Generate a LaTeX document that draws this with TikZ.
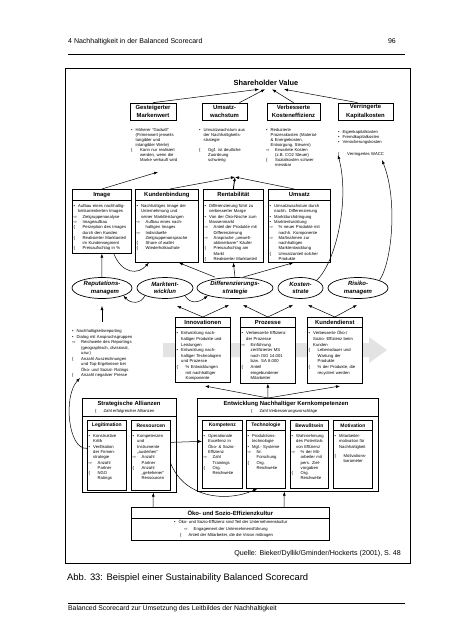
\documentclass[tikz,border=0pt]{standalone}
\usepackage{fontspec}
\setmainfont{Liberation Sans}
\newfontfamily\symf{DejaVu Sans}
\usetikzlibrary{arrows.meta,shapes.geometric,positioning}

% list items: bullet, consequence, measure; \zl breaks a line inside an item
\newcommand\zl{\hfil\break}
\newcommand\bul[1]{\par\noindent\def\zl{\hfil\break\hspace*{4.5pt}}\makebox[4.5pt][l]{\textbullet}#1}
\newcommand\arr[1]{\par\noindent\def\zl{\hfil\break\hspace*{9pt}}\makebox[9pt][l]{\symf ⇨}#1}
\newcommand\mes[1]{\par\noindent\def\zl{\hfil\break\hspace*{9pt}}\makebox[9pt][l]{\{}#1}

\tikzset{
  pf/.style={-{Latex[length=4pt,width=3pt]}, line width=0.5pt},
  kopf/.style={draw, line width=0.7pt, fill=white, inner sep=0pt, align=center, font=\fontsize{5.9}{8.3}\selectfont\bfseries},
  kopfk/.style={kopf, anchor=north west, minimum height=10pt, font=\fontsize{5}{6}\selectfont\bfseries},
  rumpf/.style={draw, line width=0.7pt, fill=white, inner sep=0pt, anchor=north west},
  txt/.style={anchor=north west, inner sep=0pt, text width=#1, align=left, font=\fontsize{4.2}{5.3}\selectfont},
  oval/.style={draw, ellipse, line width=0.7pt, fill=white, inner sep=0pt, minimum height=21pt, align=center, font=\fontsize{6}{7.5}\selectfont\bfseries\itshape},
}

\begin{document}
\begin{tikzpicture}[x=1pt, y=-1pt]
\useasboundingbox (0,0) rectangle (453,640);

% page head and foot
\node[anchor=base west, inner sep=0pt, font=\fontsize{7}{8}\selectfont] (kopfzeile) at (68,43) {4 Nachhaltigkeit in der Balanced Scorecard};
\node[anchor=base east, inner sep=0pt, font=\fontsize{7}{8}\selectfont] (seite) at (396,43) {96};
\draw[line width=0.8pt] (68,54) -- (405,54);
\draw[line width=0.8pt] (68,603) -- (405,603);
\node[anchor=west, inner sep=0pt, font=\fontsize{6.8}{8}\selectfont] (fusszeile) at (68,609) {Balanced Scorecard zur Umsetzung des Leitbildes der Nachhaltigkeit};
\node[anchor=west, inner sep=0pt, font=\fontsize{9.4}{11}\selectfont] (abb) at (67,578) {Abb. 33: Beispiel einer Sustainability Balanced Scorecard};

% frame
\draw[line width=0.7pt] (65,68) rectangle (410,563);
\node[anchor=east, inner sep=0pt, font=\fontsize{7.1}{8}\selectfont] (quelle) at (401,554) {Quelle: Bieker/Dyllik/Gminder/Hockerts (2001), S. 48};

% big grey arrow
\fill[gray!22] (163,343) -- (369,343) -- (369,337) -- (387,350) -- (369,363) -- (369,357) -- (163,357) -- cycle;

% top
\node[font=\fontsize{7.4}{9}\selectfont\bfseries] (sv) at (266,83) {Shareholder Value};
\node[kopf, minimum width=46pt, minimum height=17pt] (gmw) at (153,111.5) {Gesteigerter\\Markenwert};
\node[kopf, minimum width=45pt, minimum height=17pt] (uw) at (224.5,111.5) {Umsatz-\\wachstum};
\node[kopf, minimum width=53pt, minimum height=17pt] (vke) at (293.5,111.5) {Verbesserte\\Kosteneffizienz};
\node[kopf, minimum width=55pt, minimum height=17pt] (vkk) at (365.5,111.5) {Verringerte\\Kapitalkosten};

\node[txt=60pt, font=\fontsize{4.2}{5}\selectfont] (gmwt) at (131,126) {\bul{Höherer “Godwill”\zl(Firmenwert jenseits\zl tangibler und\zl intangibler Werte)}\mes{Kann nur realisiert\zl werden, wenn die\zl Marke verkauft wird}};
\node[txt=60pt, font=\fontsize{4.2}{5}\selectfont] (uwt) at (199,126) {\bul{Umsatzwachstum aus\zl der Nachhaltigkeits-\zl strategie}\vspace{5pt}\mes{Ggf. ist deutliche\zl Zuordnung\zl schwierig}};
\node[txt=62pt, font=\fontsize{4.2}{5}\selectfont] (vket) at (266,126) {\bul{Reduzierte\zl Prozesskosten (Material-\zl \& Energiekosten,\zl Entsorgung, Steuern)}\arr{Erwartete Kosten\zl (z.B. CO2 Steuer)}\mes{Sozialkosten schwer\zl messbar}};
\node[txt=62pt, font=\fontsize{4.2}{5}\selectfont] (vkkt) at (338,128) {\bul{Eigenkapitalkosten}\bul{Fremdkapitalkosten}\bul{Versicherungskosten}\vspace{7pt}\mes{Verringertes WACC}};

% second row
\node[kopf, anchor=north west, minimum width=59pt, minimum height=11pt] (img) at (72,189) {Image};
\node[rumpf, minimum width=59pt, minimum height=53pt] (imgb) at (72,200) {};
\node[txt=62pt] (imgt) at (73.5,202) {\bul{Aufbau eines nachhaltig-\zl keitsorientierten Images}\arr{Zielgruppenanalyse}\arr{Imageaufbau}\mes{Perzeption des Images\zl durch den Kunden}\mes{Realisierter Marktanteil\zl im Kundensegment}\mes{Preisaufschlag in \%}};
\node[kopf, anchor=north west, minimum width=63pt, minimum height=11pt] (kb) at (135,189) {Kundenbindung};
\node[rumpf, minimum width=63pt, minimum height=62pt] (kbb) at (135,200) {};
\node[txt=66pt] (kbt) at (136.5,202) {\bul{Nachhaltiges Image der\zl Unternehmung und\zl seiner Marktleistungen}\arr{Aufbau eines nach-\zl haltigen Images}\arr{Individuelle\zl Zielgruppenansprache}\mes{Share of wallet}\mes{Wiederholkaufrate}};
\node[kopf, anchor=north west, minimum width=60pt, minimum height=11pt] (rent) at (203,189) {Rentabilität};
\node[rumpf, minimum width=60pt, minimum height=62pt] (rentb) at (203,200) {};
\node[txt=64pt] (rentt) at (204.5,202) {\bul{Differenzierung führt zu\zl verbesserter Marge}\bul{Von der Öko-Nische zum\zl Massenmarkt}\arr{Anteil der Produkte mit\zl Differenzierung}\arr{Ansprache „umwelt-\zl aktivierbarer“ Käufer}\mes{Preisaufschlag am\zl Markt}\mes{Realisierter Marktanteil}};
\node[kopf, anchor=north west, minimum width=62pt, minimum height=11pt] (ums) at (268,189) {Umsatz};
\node[rumpf, minimum width=62pt, minimum height=62pt] (umsb) at (268,200) {};
\node[txt=66pt] (umst) at (269.5,202) {\bul{Umsatzwachstum durch\zl nachh. Differenzierung}\bul{Marktdurchdringung}\bul{Marktentwicklung}\arr{\% neuer Produkte mit\zl nachh. Komponente}\arr{Maßnahmen zur\zl nachhaltigen\zl Marktentwicklung}\mes{Umsatzanteil solcher\zl Produkte}};

% strategies
\node[oval, minimum width=60pt] (rep) at (102,288) {Reputations-\\\hspace*{6pt}managem};
\node[oval, minimum width=56pt] (mkt) at (165,288) {Marktent-\\wicklun};
\node[oval, minimum width=76pt] (diff) at (235,288) {Differenzierungs-\\strategie};
\node[oval, minimum width=45pt] (kost) at (300.5,288) {Kosten-\\strate};
\node[oval, minimum width=60pt] (risk) at (358,288) {Risiko-\\managem};

% third row
\node[txt=100pt, font=\fontsize{4.2}{5.5}\selectfont] (rept) at (72,327) {\bul{Nachhaltigkeitsreporting}\bul{Dialog mit Anspruchsgruppen}\arr{Reichweite des Reportings\zl (geographisch, divisional,\zl usw.)}\mes{Anzahl Auszeichnungen\zl und Top-Ergebnisse bei\zl Öko- und Sozial- Ratings}\mes{Anzahl negativer Presse}};
\node[kopf, anchor=north west, minimum width=55pt, minimum height=10pt] (inno) at (175,317) {Innovationen};
\node[rumpf, minimum width=55pt, minimum height=55pt] (innob) at (175,327) {};
\node[txt=58pt, font=\fontsize{4.2}{5.6}\selectfont] (innot) at (176.5,329) {\bul{Entwicklung nach-\zl haltiger Produkte und\zl Leistungen}\bul{Entwicklung nach-\zl haltiger Technologien\zl und Prozesse}\mes{\% Entwicklungen\zl mit nachhaltiger\zl Komponente}};
\node[kopf, anchor=north west, minimum width=55pt, minimum height=10pt] (proz) at (240,317) {Prozesse};
\node[rumpf, minimum width=55pt, minimum height=56pt] (prozb) at (240,327) {};
\node[txt=58pt, font=\fontsize{4.2}{5.6}\selectfont] (prozt) at (241.5,329) {\bul{Verbesserte Effizienz\zl der Prozesse}\arr{Einführung\zl zertifizierter MS\zl nach ISO 14.001\zl bzw. SA 8.000}\mes{Anteil\zl eingebundener\zl Mitarbeiter}};
\node[kopf, anchor=north west, minimum width=55pt, minimum height=10pt] (kund) at (307,317) {Kundendienst};
\node[rumpf, minimum width=55pt, minimum height=56pt] (kundb) at (307,327) {};
\node[txt=58pt, font=\fontsize{4.2}{5.6}\selectfont] (kundt) at (308.5,329) {\bul{Verbesserte Öko-/\zl Sozio- Effizienz beim\zl Kunden}\mes{Lebensdauer und\zl Wartung der\zl Produkte}\mes{\% der Produkte, die\zl recycliert werden}};

% alliances
\node[rumpf, minimum width=94pt, minimum height=94pt] (strat) at (82,398) {};
\draw[line width=0.7pt] (82,416) -- (176,416);
\node[font=\fontsize{5.9}{7}\selectfont\bfseries, inner sep=0pt] (stratT) at (129,403.5) {Strategische Allianzen};
\node[anchor=west, inner sep=0pt, font=\fontsize{4.2}{5}\selectfont] (stratS) at (95,411) {\{\hspace{7pt}Zahl erfolgreicher Allianzen};
\node[kopfk, minimum width=39pt] (legi) at (87,420) {Legitimation};
\node[rumpf, minimum width=39pt, minimum height=60pt] (legb) at (87,430) {};
\node[txt=42pt] (legt) at (88.5,432) {\bul{Konstruktive\zl Kritik}\bul{Verifikation\zl der Firmen-\zl strategie}\arr{Anzahl\zl Partner}\mes{NGO\zl Ratings}};
\node[kopfk, minimum width=39pt] (res) at (131,420) {Ressourcen};
\node[rumpf, minimum width=39pt, minimum height=60pt] (resb) at (131,430) {};
\node[txt=42pt] (rest) at (132.5,432) {\bul{Kompetenzen\zl und\zl Instrumente\zl „ausleihen“}\arr{Anzahl\zl Partner}\mes{Anzahl\zl „geliehener“\zl Ressourcen}};

% core competences
\node[rumpf, minimum width=181pt, minimum height=93pt] (kern) at (197,398) {};
\draw[line width=0.7pt] (197,416) -- (378,416);
\node[font=\fontsize{5.9}{7}\selectfont\bfseries, inner sep=0pt] (kernT) at (286,403.5) {Entwicklung Nachhaltiger Kernkompetenzen};
\node[anchor=west, inner sep=0pt, font=\fontsize{4.2}{5}\selectfont] (kernS) at (251,411) {\{\hspace{7pt}Zahl Verbesserungsvorschläge};
\node[kopfk, minimum width=40pt] (komp) at (202,420) {Kompetenz};
\node[rumpf, minimum width=40pt, minimum height=58pt] (kompb) at (202,430) {};
\node[txt=43pt] (kompt) at (203.5,432) {\bul{Operationale\zl Excellenz in\zl Öko- \& Sozio-\zl Effizienz}\arr{Zahl\zl Trainings}\mes{Org.\zl Reichweite}};
\node[kopfk, minimum width=39pt] (tech) at (246,420) {Technologie};
\node[rumpf, minimum width=39pt, minimum height=58pt] (techb) at (246,430) {};
\node[txt=42pt] (techt) at (247.5,432) {\bul{Produktions-\zl technologie}\bul{Mgt.- Systeme}\arr{Nr.\zl Forschung}\mes{Org.\zl Reichweite}};
\node[kopfk, minimum width=38pt] (bew) at (290,420) {Bewußtsein};
\node[rumpf, minimum width=38pt, minimum height=58pt] (bewb) at (290,430) {};
\node[txt=41pt] (bewt) at (291.5,432) {\bul{Wahrnehmung\zl des Potentials\zl von Effizienz}\arr{\% der Mit-\zl arbeiter mit\zl pers. Ziel-\zl vorgaben}\mes{Org.\zl Reichweite}};
\node[kopfk, minimum width=39pt] (moti) at (333,420) {Motivation};
\node[rumpf, minimum width=39pt, minimum height=58pt] (motib) at (333,430) {};
\node[txt=42pt] (motit) at (334.5,432) {\bul{Mitarbeiter-\zl motivation für\zl Nachhaltigkeit}\vspace{4pt}\mes{Motivations-\zl barometer}};

% culture
\node[kopf, anchor=north west, minimum width=198pt, minimum height=11pt] (oeko) at (131,507) {Öko- und Sozio-Effizienzkultur};
\node[rumpf, minimum width=198pt, minimum height=22pt] (oekob) at (131,518) {};
\node[anchor=north west, inner sep=0pt, align=left, font=\fontsize{4.2}{6.5}\selectfont] (oekot) at (174,520) {\textbullet\hspace{3pt}Öko- und Sozio-Effizienz sind Teil der Unternehmenskultur\\\hspace*{10pt}{\symf ⇨}\hspace{6pt}Engagement der Unternehmensführung\\\hspace*{6pt}\{\hspace{7pt}Anteil der Mitarbeiter, die die Vision mittragen};

% arrow ends
\coordinate (gmwZ) at (158,172);
\coordinate (uwZ) at (235,177);
\coordinate (vkeZ) at (338,155);
\coordinate (vkkZ) at (382,160);
\coordinate (repU) at (102,306);
\coordinate (reptN) at (102,322);
\coordinate (reptZ) at (80,378);
\coordinate (mktU) at (177,306);
\coordinate (diffU1) at (229,305);
\coordinate (diffU2) at (243,305);
\coordinate (kostU1) at (293,305);
\coordinate (kostU2) at (308,305);
\coordinate (riskU) at (357,305);
\coordinate (kernN) at (268,398);
\coordinate (innoZ) at (205,386);
\coordinate (kundZ) at (340,386);

% arrows
\draw[pf] (gmw.north) -- ([xshift=-7pt]sv.south);
\draw[pf] ([xshift=15pt]uw.north) -- ([xshift=-1pt]sv.south);
\draw[pf] (vke.north) -- ([xshift=6pt]sv.south);
\draw[pf] ([xshift=-8pt]vkk.north) -- ([xshift=18pt]sv.south);
\draw[pf] (img.north) -- (gmwZ);
\draw[pf] ([xshift=3pt]kb.north) -- (uwZ);
\draw[pf, line width=0.9pt] (rent.north) -- (uwZ);
\draw[pf] ([xshift=-5pt]ums.north) -- (uwZ);
\draw[pf] (kost.north east) .. controls (336,262) and (350,200) .. (vkeZ);
\draw[pf] (risk.north east) .. controls (392,262) and (398,200) .. (vkkZ);
\draw[pf] (rep.north) -- (imgb.south);
\draw[pf] ([xshift=12pt]imgb.south) .. controls (122,274) and (138,275) .. ([xshift=-18pt]kbb.south);
\draw[pf] ([xshift=-20pt]diff.north) -- ([xshift=12pt]kbb.south);
\draw[pf] (diff.north) -- (rentb.south);
\draw[pf] ([xshift=8pt]diff.north) -- ([xshift=-6pt]umsb.south);
\draw[pf] (mkt.south west) .. controls (141,304) and (131,304) .. (rep.south east);
\draw[pf] (mkt.south east) .. controls (190,304) and (198,303) .. (diff.south west);
\draw[pf] (reptN) -- (repU);
\draw[pf] (inno.north) -- (mktU);
\draw[pf] (inno.north) -- (diffU1);
\draw[pf] (proz.north) -- (diffU2);
\draw[pf] (proz.north) -- (kostU1);
\draw[pf] (kund.north) -- (kostU2);
\draw[pf] (kund.north) -- (riskU);
\draw[pf] ([yshift=12pt]legb.west) .. controls (68,450) and (63,396) .. (reptZ);
\draw[pf] ([yshift=18pt]resb.east) -- ([yshift=18pt]kompb.west);
\draw[pf] ([yshift=-3pt]resb.east) .. controls (184,497) and (225,503) .. ([xshift=-8.5pt]techb.south);
\draw[pf] (kernN) -- (prozb.south);
\draw[pf] (kernN) -- (innoZ);
\draw[pf] (kernN) -- (kundZ);
\draw[pf] ([xshift=22pt]oeko.north west) -- ([xshift=24pt]strat.south);
\draw[pf] ([xshift=153pt]oeko.north west) -- ([xshift=-3.5pt]kern.south);
\end{tikzpicture}
\end{document}
